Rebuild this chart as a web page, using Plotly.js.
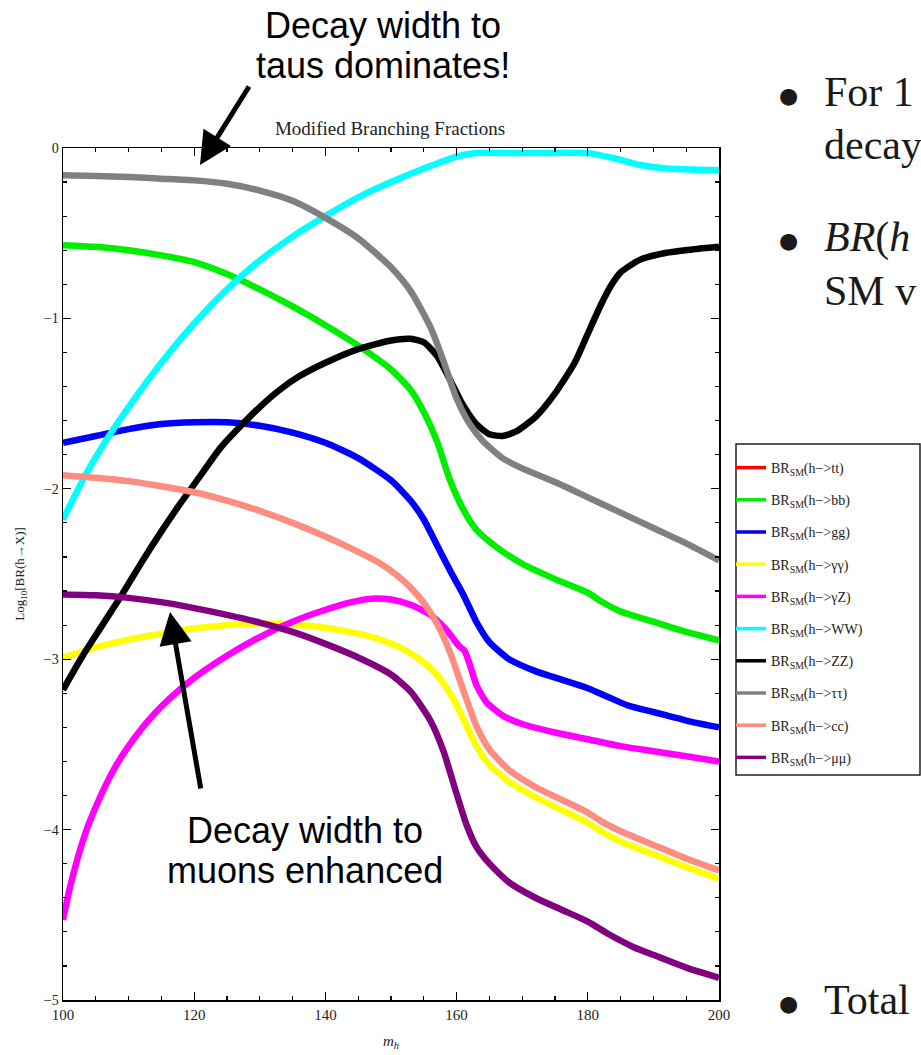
<!DOCTYPE html>
<html>
<head>
<meta charset="utf-8">
<script src="https://cdn.plot.ly/plotly-3.0.1.min.js"></script>
<style>
  html, body { margin: 0; padding: 0; background: #fff; }
  #chart { width: 921px; height: 1055px; }
</style>
</head>
<body>
<div id="chart"></div>
<script>
// Higgs mass (GeV) samples and log10 branching ratios for each channel
// (h->tt lies below the plotted range, so it only appears in the legend)
const mhTT = [100, 200];
const brTT = [null, null];

const mhBB = [100,105,110,115,120,125,130,135,140,145,150,153,155,157,159,161,163,166,170,175,180,182,185,190,195,200];
const brBB = [-0.57,-0.58,-0.60,-0.63,-0.67,-0.74,-0.83,-0.93,-1.04,-1.16,-1.30,-1.42,-1.55,-1.72,-1.95,-2.12,-2.24,-2.34,-2.44,-2.53,-2.61,-2.66,-2.72,-2.78,-2.84,-2.89];

const mhGG = [100,105,110,115,120,125,130,135,140,145,150,153,155,157,159,161,163,165,168,172,176,180,183,186,190,195,200];
const brGG = [-1.73,-1.69,-1.65,-1.62,-1.61,-1.61,-1.63,-1.67,-1.73,-1.82,-1.95,-2.07,-2.18,-2.33,-2.48,-2.62,-2.78,-2.90,-3.00,-3.07,-3.12,-3.17,-3.22,-3.27,-3.31,-3.36,-3.40];

const mhAA = [100,105,110,115,120,125,130,135,140,145,148,151,154,156.5,158.5,160,161.5,163,165,168,172,176,180,182,185,190,195,200];
const brAA = [-2.99,-2.93,-2.885,-2.85,-2.82,-2.80,-2.79,-2.795,-2.815,-2.85,-2.88,-2.925,-2.99,-3.07,-3.17,-3.27,-3.39,-3.51,-3.62,-3.72,-3.81,-3.885,-3.96,-4.01,-4.07,-4.145,-4.22,-4.29];

const mhAZ = [100,101,102,103,104,106,108,110,113,116,120,125,130,135,140,144,147,150,153,156,158.5,160.3,161.2,162,163,164.5,167,170,175,180,185,190,195,200];
const brAZ = [-4.53,-4.35,-4.20,-4.07,-3.96,-3.78,-3.63,-3.51,-3.36,-3.24,-3.11,-2.98,-2.87,-2.78,-2.71,-2.665,-2.645,-2.65,-2.68,-2.74,-2.83,-2.92,-2.95,-3.03,-3.15,-3.25,-3.33,-3.38,-3.43,-3.47,-3.51,-3.54,-3.57,-3.60];

const mhWW = [100,103,106,110,115,120,125,130,135,140,145,150,155,160,163,170,180,184,188,192,200];
const brWW = [-2.18,-1.95,-1.75,-1.52,-1.26,-1.03,-0.83,-0.66,-0.52,-0.40,-0.29,-0.20,-0.12,-0.05,-0.03,-0.03,-0.03,-0.06,-0.10,-0.12,-0.13];

const mhZZ = [100,103,106,109,112,115,118,121,124,127,130,133,136,140,145,150,153,155,157,159,161,163,165,167,169,172,175,178,180,182,183.5,185,188,192,196,200];
const brZZ = [-3.18,-2.98,-2.80,-2.62,-2.43,-2.25,-2.08,-1.92,-1.76,-1.635,-1.52,-1.42,-1.34,-1.26,-1.18,-1.13,-1.12,-1.14,-1.22,-1.36,-1.51,-1.62,-1.68,-1.69,-1.665,-1.58,-1.44,-1.26,-1.09,-0.92,-0.81,-0.73,-0.655,-0.615,-0.595,-0.58];

const mhTauTau = [100,105,110,115,120,125,130,135,140,145,150,153,156,158,160,162,164,167,170,175,180,185,190,195,200];
const brTauTau = [-0.16,-0.165,-0.17,-0.18,-0.19,-0.21,-0.25,-0.31,-0.41,-0.53,-0.70,-0.84,-1.05,-1.25,-1.47,-1.62,-1.72,-1.82,-1.88,-1.96,-2.05,-2.14,-2.23,-2.32,-2.42];

const mhCC = [100,105,110,115,120,125,130,135,140,145,148,151,153,155,157,159,161,163,165,168,172,176,180,182,185,190,195,200];
const brCC = [-1.92,-1.935,-1.955,-1.985,-2.02,-2.07,-2.13,-2.20,-2.28,-2.37,-2.43,-2.51,-2.58,-2.67,-2.79,-2.96,-3.18,-3.39,-3.53,-3.65,-3.75,-3.825,-3.90,-3.95,-4.01,-4.09,-4.17,-4.24];

const mhMuMu = [100,105,110,115,120,125,130,135,140,145,150,153,156,158,160,161.5,163,165,168,172,176,180,183,187,191,195,200];
const brMuMu = [-2.62,-2.625,-2.64,-2.665,-2.70,-2.74,-2.785,-2.84,-2.91,-2.99,-3.09,-3.19,-3.36,-3.54,-3.79,-3.97,-4.10,-4.20,-4.31,-4.40,-4.47,-4.54,-4.61,-4.69,-4.75,-4.81,-4.87];

const legendNames = [
  'BR<sub>SM</sub>(h\u2212>tt)',
  'BR<sub>SM</sub>(h\u2212>bb)',
  'BR<sub>SM</sub>(h\u2212>gg)',
  'BR<sub>SM</sub>(h\u2212>\u03b3\u03b3)',
  'BR<sub>SM</sub>(h\u2212>\u03b3Z)',
  'BR<sub>SM</sub>(h\u2212>WW)',
  'BR<sub>SM</sub>(h\u2212>ZZ)',
  'BR<sub>SM</sub>(h\u2212>\u03c4\u03c4)',
  'BR<sub>SM</sub>(h\u2212>cc)',
  'BR<sub>SM</sub>(h\u2212>\u03bc\u03bc)'
];

const channels = [
  [mhTT, brTT, '#ff0000'],
  [mhBB, brBB, '#00ee00'],
  [mhGG, brGG, '#0000ff'],
  [mhAA, brAA, '#ffff00'],
  [mhAZ, brAZ, '#ff00ff'],
  [mhWW, brWW, '#00ffff'],
  [mhZZ, brZZ, '#000000'],
  [mhTauTau, brTauTau, '#808080'],
  [mhCC, brCC, '#ff8c80'],
  [mhMuMu, brMuMu, '#800080']
];

// thick curves in the plot area
const curves = channels.map((c, i) => ({
  type: 'scatter', mode: 'lines',
  x: c[0], y: c[1],
  name: legendNames[i], legendgroup: 'g' + i, showlegend: false,
  line: { color: c[2], width: 6.5, shape: 'spline', smoothing: 0.6 }
}));

// legend entries with thinner swatches
const keys = channels.map((c, i) => ({
  type: 'scatter', mode: 'lines',
  x: c[0], y: c[0].map(() => null),
  name: legendNames[i], legendgroup: 'g' + i, showlegend: true,
  line: { color: c[2], width: 3.5 }
}));

// plot box in page pixels
const L = 63, R = 719, T = 148, B = 1000;
const W = 921, H = 1055;
const px = v => (v - L) / (R - L);
const py = v => (B - v) / (B - T);

const serif = 'Liberation Serif, Times New Roman, serif';
const sans = 'Liberation Sans, Arial, sans-serif';

const annotations = [
  // callout texts
  { text: 'Decay width to', x: px(383), y: py(25) },
  { text: 'taus dominates!', x: px(383), y: py(65) },
  { text: 'Decay width to', x: px(305), y: py(830) },
  { text: 'muons enhanced', x: px(305), y: py(870) }
].map(a => Object.assign({
  xref: 'paper', yref: 'paper', showarrow: false,
  xanchor: 'center', yanchor: 'middle',
  font: { family: sans, size: 36, color: '#000' }
}, a));

// arrows
annotations.push({
  xref: 'paper', yref: 'paper', x: px(200), y: py(165), text: '',
  showarrow: true, ax: 50, ay: -80, arrowhead: 2, arrowsize: 1.3,
  arrowwidth: 5, arrowcolor: '#000', standoff: 0
});
annotations.push({
  xref: 'paper', yref: 'paper', x: px(170), y: py(612), text: '',
  showarrow: true, ax: 31, ay: 178, arrowhead: 2, arrowsize: 1.3,
  arrowwidth: 5, arrowcolor: '#000', standoff: 0
});

// side notes: bullet dots and the start of each line of text
const notes = [
  { t: '\u25cf', x: 788, y: 95, s: 22, f: 'DejaVu Sans', a: 'center' },
  { t: 'For 1', x: 822, y: 92, s: 42, f: serif, a: 'left' },
  { t: 'decay', x: 822, y: 145, s: 42, f: serif, a: 'left' },
  { t: '\u25cf', x: 788, y: 241, s: 22, f: 'DejaVu Sans', a: 'center' },
  { t: '<i>BR</i>(<i>h</i>', x: 822, y: 238, s: 42, f: serif, a: 'left' },
  { t: 'SM v', x: 822, y: 291, s: 42, f: serif, a: 'left' },
  { t: '\u25cf', x: 788, y: 1003, s: 22, f: 'DejaVu Sans', a: 'center' },
  { t: 'Total', x: 822, y: 1000, s: 42, f: serif, a: 'left' }
];
notes.forEach(n => annotations.push({
  xref: 'paper', yref: 'paper', x: px(n.x), y: py(n.y), text: n.t,
  showarrow: false, xanchor: n.a, yanchor: 'middle',
  font: { family: n.f, size: n.s, color: '#1a1a1a' }
}));

const layout = {
  width: W, height: H,
  margin: { l: L, r: W - R, t: T, b: H - B, pad: 0 },
  paper_bgcolor: '#fff', plot_bgcolor: '#fff',
  title: {
    text: 'Modified Branching Fractions',
    xref: 'container', x: 390 / W, xanchor: 'center',
    yref: 'container', y: 1 - 128 / H, yanchor: 'middle',
    font: { family: serif, size: 19, color: '#222' }
  },
  xaxis: {
    range: [100, 200], dtick: 20, tick0: 100,
    ticks: 'inside', ticklen: 8, tickwidth: 1.3, tickcolor: '#000',
    minor: { dtick: 5, ticks: 'inside', ticklen: 4, tickwidth: 1.2, tickcolor: '#000' },
    showline: true, linecolor: '#000', linewidth: 1.5, mirror: 'ticks',
    showgrid: false, zeroline: false,
    tickfont: { family: serif, size: 15, color: '#222' },
    title: { text: '<i>m<sub>h</sub></i>', font: { family: serif, size: 15, color: '#222' }, standoff: 14 }
  },
  yaxis: {
    range: [-5, 0], dtick: 1, tick0: 0,
    ticks: 'inside', ticklen: 8, tickwidth: 1.3, tickcolor: '#000',
    minor: { dtick: 0.2, ticks: 'inside', ticklen: 4, tickwidth: 1.2, tickcolor: '#000' },
    showline: true, linecolor: '#000', linewidth: 1.5, mirror: 'ticks',
    showgrid: false, zeroline: false,
    tickfont: { family: serif, size: 14, color: '#222' },
    title: { text: 'Log<sub>10</sub>[BR(h\u2192X)]', font: { family: serif, size: 13, color: '#222' }, standoff: 16 }
  },
  legend: {
    x: px(731), y: py(452), xanchor: 'left', yanchor: 'top',
    bgcolor: 'rgba(0,0,0,0)', borderwidth: 0,
    font: { family: serif, size: 14, color: '#222' },
    itemwidth: 30,
    traceorder: 'grouped', tracegroupgap: 11
  },
  shapes: [
    // legend frame
    { type: 'rect', xref: 'paper', yref: 'paper', layer: 'below',
      x0: px(736), x1: px(920), y0: py(775), y1: py(444),
      line: { color: '#222', width: 1.5 }, fillcolor: '#fff' }
  ],
  annotations: annotations,
  showlegend: true
};

Plotly.newPlot('chart', curves.concat(keys), layout, { displayModeBar: false, staticPlot: true });
</script>
</body>
</html>
